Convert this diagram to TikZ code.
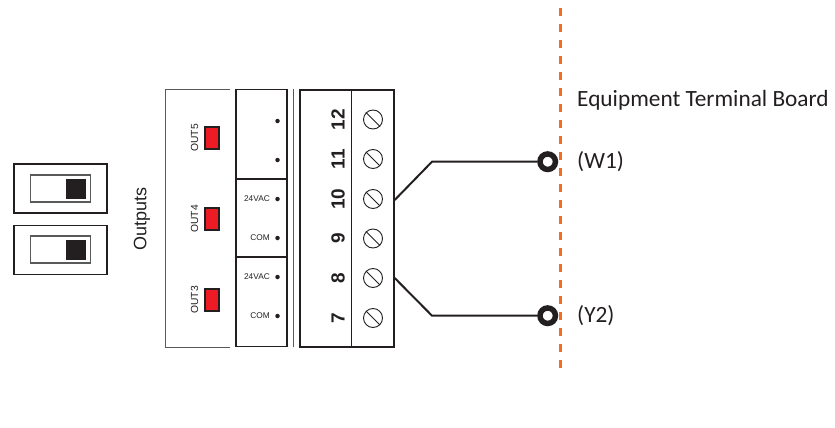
\documentclass[tikz,border=0pt]{standalone}
\usepackage{fontspec}
\setmainfont{Liberation Sans}
\newfontfamily\boardfont{Carlito}
\definecolor{ledred}{HTML}{ED1C24}
\definecolor{wireblack}{HTML}{231F20}
\definecolor{edgegray}{HTML}{58595B}
\definecolor{boundary}{HTML}{F26F21}
\tikzset{
  plate/.style={draw=wireblack,line width=1.9pt,inner sep=0pt,minimum width=#1},
  switchbox/.style={draw=wireblack,line width=1.7pt,fill=white,inner sep=0pt,minimum width=93pt,minimum height=49pt},
  slot/.style={draw=edgegray,line width=1.4pt,inner sep=0pt,minimum width=60pt,minimum height=27pt},
  knob/.style={fill=wireblack,inner sep=0pt,minimum size=20pt},
  led/.style={draw=wireblack,line width=1.1pt,fill=ledred,inner sep=0pt,minimum width=14pt,minimum height=22pt},
  outlabel/.style={rotate=90,text=wireblack,font=\fontsize{10.3}{12}\selectfont,inner sep=0pt},
  pinlabel/.style={anchor=east,text=wireblack,font=\fontsize{8.3}{10}\selectfont,inner sep=0pt},
  pindot/.style={circle,fill=wireblack,inner sep=0pt,minimum size=4.5pt},
  termnum/.style={rotate=90,text=wireblack,font=\fontsize{19}{22}\selectfont\bfseries,inner sep=0pt},
  screw/.style={circle,draw=wireblack,line width=0.9pt,inner sep=0pt,minimum size=19pt},
  lug/.style={circle,draw=wireblack,line width=5.5pt,fill=white,inner sep=0pt,minimum size=15.5pt},
  wire/.style={draw=wireblack,line width=2pt},
  boardtext/.style={anchor=west,text=wireblack,font=\boardfont\fontsize{23.3}{26}\selectfont,inner sep=0pt}
}
\begin{document}
\begin{tikzpicture}[x=1pt,y=-1pt]
\useasboundingbox (0,0) rectangle (835,428);

% switches
\node[switchbox] (sw1) at (60.5,188.5) {};
\node[switchbox] (sw2) at (60.5,250) {};
\node[slot] (slot1) at (60.5,188.5) {};
\node[slot] (slot2) at (60.5,249.5) {};
\node[knob] (knob1) at (76,189) {};
\node[knob] (knob2) at (76,250) {};
\node[rotate=90,text=wireblack,font=\fontsize{18}{20}\selectfont,inner sep=0pt] (outputs) at (142,219) {Outputs};

% output plate
\draw[edgegray,line width=1pt] (230,89) -- (165,89) -- (165,347) -- (230,347);
\foreach \name/\ya in {5/138,4/219,3/300}{
  \node[led] (led\name) at (212,\ya) {};
  \node[outlabel] (out\name) at (194.5,\ya) {OUT\name};
}

% connector
\node[plate=51pt,minimum height=257pt] (conn) at (261.5,218) {};
\draw[wireblack,line width=1.4pt] (conn.west |- 0,179) -- (conn.east |- 0,179)
  (conn.west |- 0,257) -- (conn.east |- 0,257);
\foreach \nn/\ya in {a/121,b/160,c/199,d/238,e/277,f/316}{
  \node[pindot] (dot\nn) at (277.5,\ya) {};
}
\node[pinlabel] (lab24a) at (270,199) {24VAC};
\node[pinlabel] (labcoma) at (270,238) {COM};
\node[pinlabel] (lab24b) at (270,277) {24VAC};
\node[pinlabel] (labcomb) at (270,316) {COM};

% terminal block
\draw[edgegray,line width=1.9pt] (293.5,89) -- (293.5,347);
\node[plate=94pt,minimum height=257pt] (block) at (346.75,218.5) {};
\draw[wireblack,line width=1pt] (351.5,0 |- block.north) -- (351.5,0 |- block.south);
\foreach \num/\ya in {12/119.5,11/159,10/199,9/238.5,8/278,7/318}{
  \node[termnum] (t\num) at (338,\ya) {\num};
  \node[screw] (s\num) at (373,\ya) {};
  \draw[wireblack,line width=0.9pt] (s\num.135) -- (s\num.-45);
}

% wires
\draw[boundary,line width=3pt,dash pattern=on 8pt off 8pt] (560.5,8) -- (560.5,368);
\node[lug] (w1) at (547.7,161.7) {};
\node[lug] (y2) at (547.7,315.7) {};
\coordinate (k1) at (432,161.7);
\coordinate (k2) at (432,315.7);
\draw[wire] (block.east |- 0,200) -- (k1) -- (w1);
\draw[wire] (block.east |- 0,278) -- (k2) -- (y2);

\node[boardtext] (board) at (577,100.5) {Equipment Terminal Board};
\node[boardtext] (w1lab) at (577,162) {(W1)};
\node[boardtext] (y2lab) at (577,316) {(Y2)};

\end{tikzpicture}
\end{document}
